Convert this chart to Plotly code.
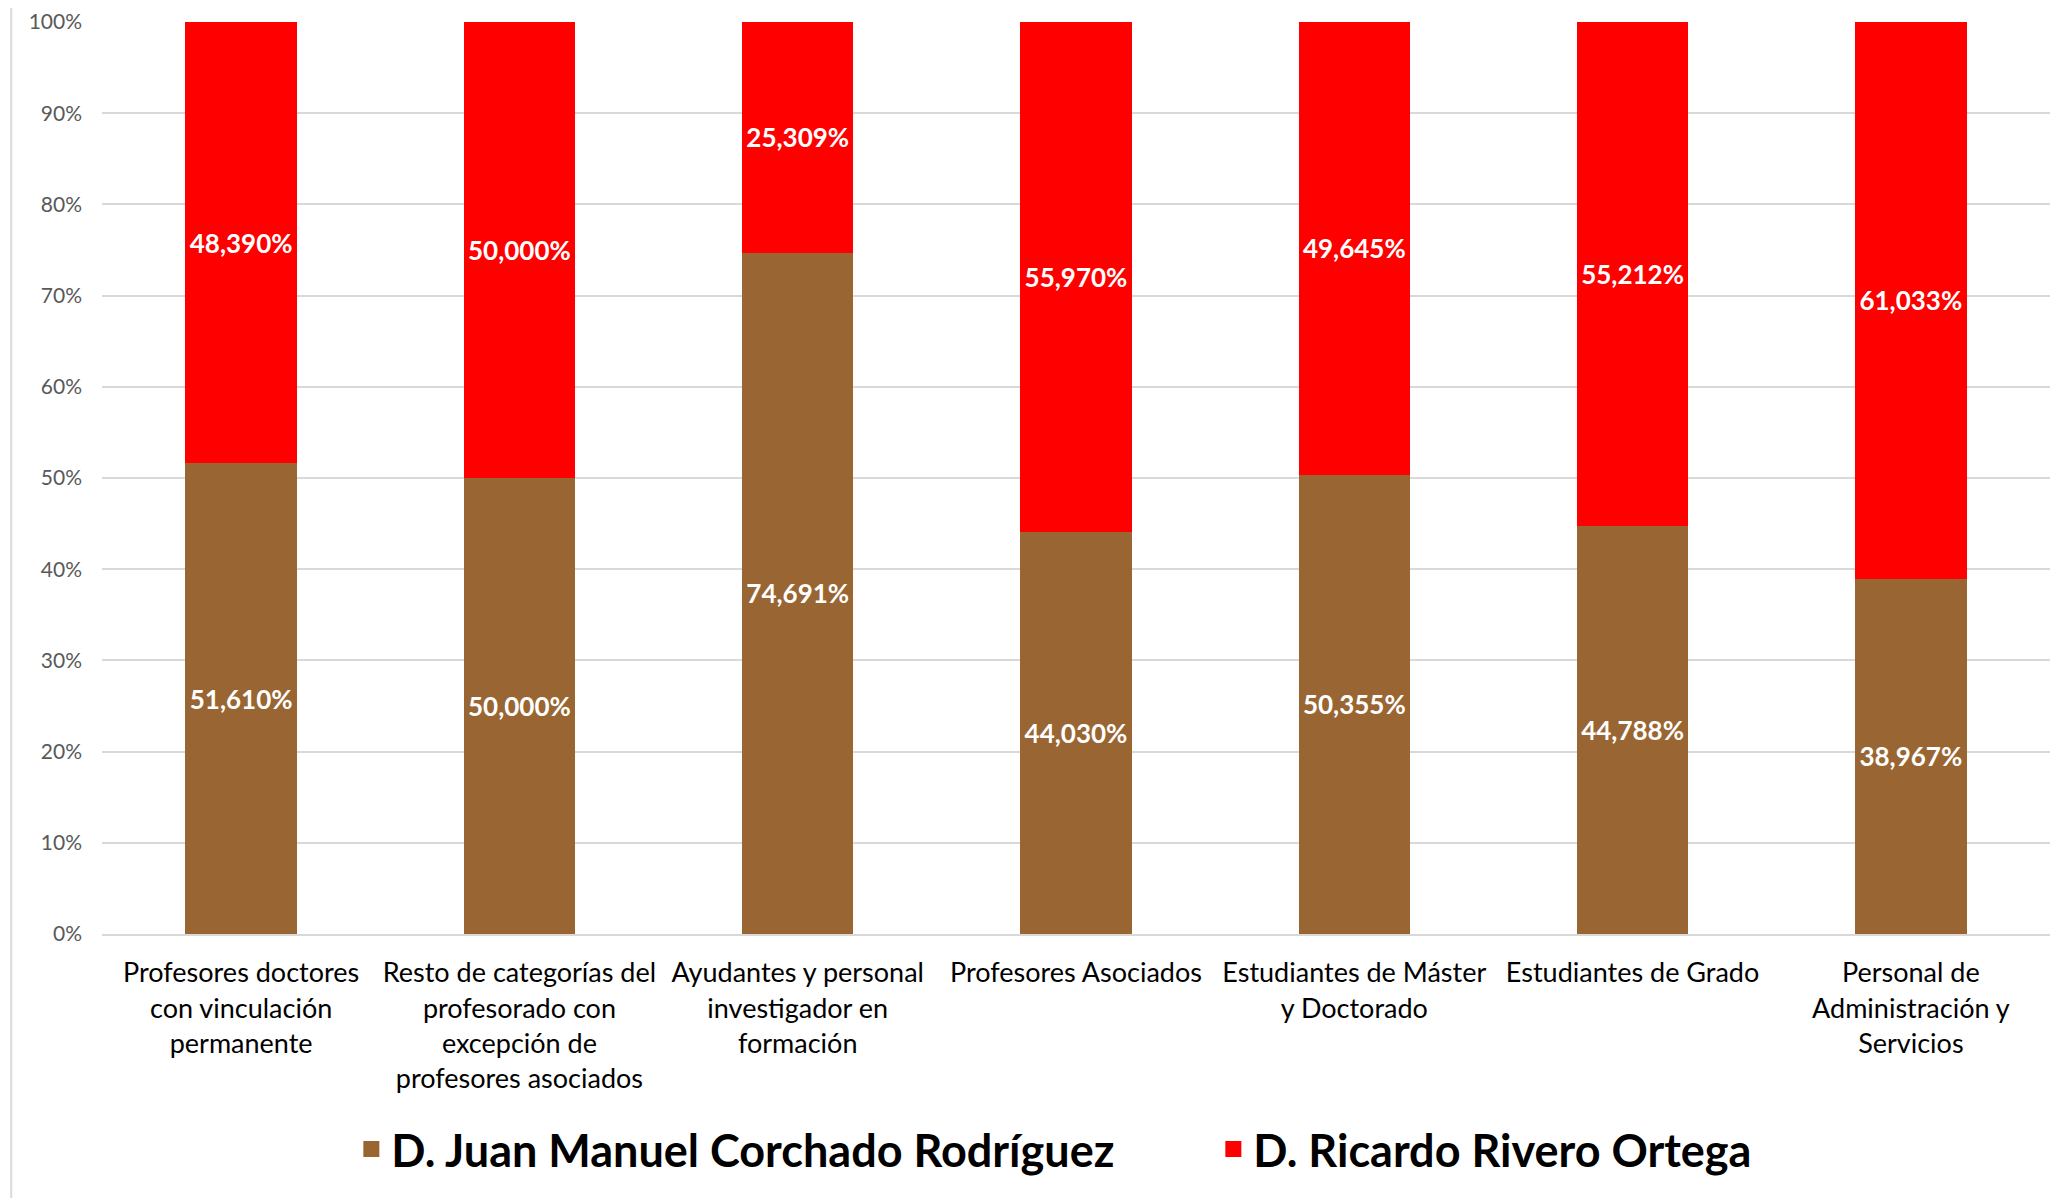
import plotly.graph_objects as go

categories = [
    "Profesores doctores<br>con vinculación<br>permanente",
    "Resto de categorías del<br>profesorado con<br>excepción de<br>profesores asociados",
    "Ayudantes y personal<br>investigador en<br>formación",
    "Profesores Asociados",
    "Estudiantes de Máster<br>y Doctorado",
    "Estudiantes de Grado",
    "Personal de<br>Administración y<br>Servicios",
]
corchado = [51.610, 50.000, 74.691, 44.030, 50.355, 44.788, 38.967]
rivero = [48.390, 50.000, 25.309, 55.970, 49.645, 55.212, 61.033]
series_names = ["D. Juan Manuel Corchado Rodríguez", "D. Ricardo Rivero Ortega"]
colors = ["#996633", "#FF0000"]
y_ticks = list(range(0, 101, 10))

def fmt(v):
    return f"{v:.3f}".replace(".", ",") + "%"

FONT = "Lato, 'Open Sans', sans-serif"
fig = go.Figure()
for name, vals, col in zip(series_names, [corchado, rivero], colors):
    fig.add_trace(go.Bar(
        x=categories, y=vals, name=name, marker=dict(color=col, line=dict(width=0)),
        text=[fmt(v) for v in vals], textposition="inside", insidetextanchor="middle",
        textfont=dict(family=FONT, size=26, color="white", weight="bold"),
        textangle=0, legendgroup=name, showlegend=False,
    ))
# legend entries with larger square swatches
for name, col in zip(series_names, colors):
    fig.add_trace(go.Scatter(
        x=[None], y=[None], mode="markers", name=name, legendgroup=name,
        marker=dict(symbol="square", size=27, color=col), hoverinfo="skip",
    ))

fig.update_layout(
    barmode="stack", bargap=0.6,
    width=2060, height=1198,
    margin=dict(l=94, r=18, t=14, b=272, autoexpand=False),
    plot_bgcolor="white", paper_bgcolor="white",
    font=dict(family=FONT),
    uniformtext=dict(mode=False),
    legend=dict(orientation="h", x=0.128, xanchor="left", y=-0.236, yanchor="middle",
                font=dict(family=FONT, size=45, color="black", weight="bold"),
                itemwidth=30, itemsizing="trace", traceorder="normal",
                entrywidth=817, entrywidthmode="pixels"),
    shapes=[dict(type="line", xref="paper", yref="paper", x0=-0.0466, x1=-0.0466,
                 y0=-0.32, y1=1.03, line=dict(color="#D9D9D9", width=2))],
)
fig.update_yaxes(range=[0, 100], tickvals=y_ticks, ticktext=[f"{t}%" for t in y_ticks],
                 showgrid=True, gridcolor="#D9D9D9", gridwidth=2, zeroline=False,
                 tickfont=dict(family=FONT, size=21, color="#595959"), ticks="",
                 ticklabelstandoff=19, automargin=False)
fig.update_xaxes(showline=True, linecolor="#D9D9D9", linewidth=2, ticks="",
                 tickfont=dict(family=FONT, size=27, color="black"), tickangle=0,
                 ticklabelstandoff=14, automargin=False)

fig.write_html("out.html")
